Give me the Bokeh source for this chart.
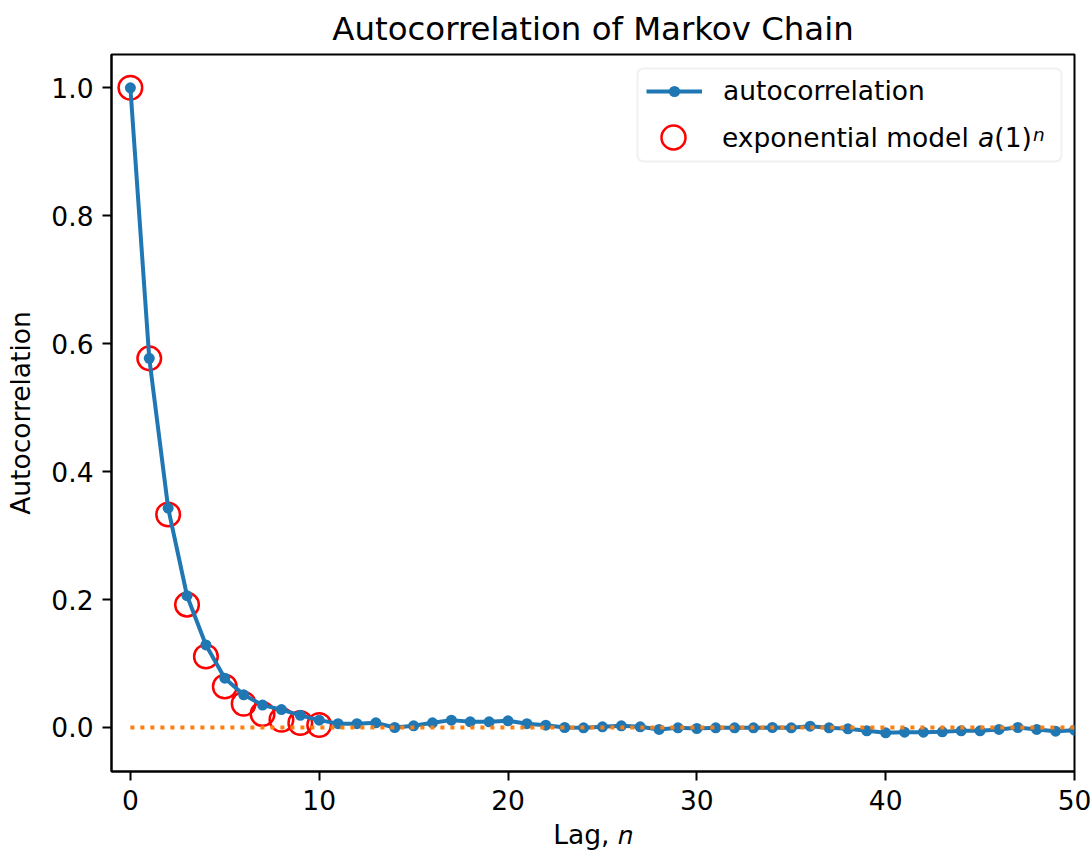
from bokeh.plotting import figure
from bokeh.models import (Range1d, Legend, LegendItem, FixedTicker,
                          NumeralTickFormatter, BoxAnnotation, Label, Title)
from bokeh.embed import file_html
from bokeh.resources import INLINE

# Sample autocorrelation of the chain for lags 0..50
lags = list(range(51))
acf = [1.0, 0.577, 0.343, 0.206, 0.129, 0.077, 0.051, 0.035, 0.028, 0.019,
       0.0115, 0.006, 0.006, 0.0073, 0.0, 0.0026, 0.0073, 0.0115, 0.0089, 0.0089,
       0.0104, 0.006, 0.0036, 0.0, -0.0005, 0.001, 0.0026, 0.001, -0.003, -0.0005,
       -0.0016, -0.0005, -0.0005, -0.0005, 0.0, -0.0005, 0.002, -0.0005, -0.002, -0.0052,
       -0.0083, -0.0073, -0.0073, -0.0068, -0.0052, -0.0052, -0.003, 0.0, -0.003, -0.0057,
       -0.0042]

# Exponential model a(1)^n for the first lags
model_lags = list(range(11))
model_vals = [1.0, 0.577, 0.333, 0.192, 0.111, 0.064, 0.037, 0.021, 0.012, 0.007, 0.004]

# Reference zero line
zero_x = [0, 50]
zero_y = [0, 0]

x_ticks = [0, 10, 20, 30, 40, 50]
y_ticks = [0.0, 0.2, 0.4, 0.6, 0.8, 1.0]

FONT = "DejaVu Sans"
BLUE = "#1f77b4"
ORANGE = "#ff7f0e"
TICK_PX = "26.5px"

p = figure(width=1092, height=856, output_backend="svg", toolbar_location=None,
           x_range=Range1d(-1, 50), y_range=Range1d(-0.0688, 1.052),
           min_border_left=111, min_border_right=18, min_border_top=54,
           min_border_bottom=85, title="Autocorrelation of Markov Chain")

p.title.text_font = FONT
p.title.text_font_size = "32.4px"
p.title.text_font_style = "normal"
p.title.text_color = "black"
p.title.align = "center"
p.title.standoff = 13

p.grid.visible = False
p.outline_line_color = "black"
p.outline_line_width = 2
p.background_fill_color = "white"
p.border_fill_color = "white"

for ax in (p.xaxis[0], p.yaxis[0]):
    ax.axis_line_width = 2
    ax.major_tick_line_width = 2
    ax.major_tick_out = 9
    ax.major_tick_in = 0
    ax.minor_tick_line_color = None
    ax.major_label_text_font = FONT
    ax.major_label_text_font_size = TICK_PX
    ax.major_label_text_color = "black"
    ax.axis_label_text_font = FONT
    ax.axis_label_text_font_size = TICK_PX
    ax.axis_label_text_font_style = "normal"
    ax.axis_label_text_color = "black"

p.xaxis.ticker = FixedTicker(ticks=x_ticks)
p.yaxis.ticker = FixedTicker(ticks=y_ticks)
p.yaxis.formatter = NumeralTickFormatter(format="0.0")
p.xaxis.major_label_standoff = 9
p.yaxis.major_label_standoff = 9
p.yaxis.axis_label = "Autocorrelation"
p.yaxis.axis_label_standoff = 12

# x-axis title as a panel under the tick labels
p.add_layout(Title(text="Lag, \U0001D45B", align="center", text_font=FONT,
                   text_font_size=TICK_PX, text_font_style="normal",
                   text_color="black", standoff=9, vertical_align="bottom"), "below")

# model circles sit beneath the data line
circ = p.scatter(model_lags, model_vals, marker="circle", size=23.6,
                 fill_color=None, line_color="red", line_width=2.5)
line = p.line(lags, acf, line_color=BLUE, line_width=4)
dots = p.scatter(lags, acf, marker="circle", size=11, fill_color=BLUE,
                 line_color=BLUE, line_width=0)
p.line(zero_x, zero_y, line_color=ORANGE, line_width=4, line_dash="4 6")

# legend frame (screen units measured from the plot frame's lower-left corner)
p.add_layout(BoxAnnotation(left=526, right=950, bottom=610, top=703,
                           left_units="screen", right_units="screen",
                           bottom_units="screen", top_units="screen",
                           fill_color="white", fill_alpha=0.8,
                           line_color="#cccccc", line_width=2,
                           border_radius=6))


def make_legend(item, loc, gw, gh, standoff):
    lg = Legend(items=[item], location=loc)
    lg.margin = 0
    lg.padding = 0
    lg.spacing = 0
    lg.glyph_width = gw
    lg.glyph_height = gh
    lg.label_height = gh
    lg.label_standoff = standoff
    lg.label_text_font = FONT
    lg.label_text_font_size = TICK_PX
    lg.label_text_color = "black"
    lg.border_line_color = None
    lg.background_fill_alpha = 0
    return lg


p.add_layout(make_legend(LegendItem(label="autocorrelation", renderers=[line, dots]),
                         (535, 665), 56, 28, 21))
p.add_layout(make_legend(LegendItem(label="exponential model ", renderers=[circ]),
                         (532, 604), 60, 60, 19))

# math part of the model label: italic a, upright (1), italic superscript n
for txt, xs, ys, size, style in [("a", 866.6, 634, TICK_PX, "italic"),
                                 ("(1)", 882.8, 634, TICK_PX, "normal"),
                                 ("n", 921.5, 637.5, "18.5px", "italic")]:
    p.add_layout(Label(text=txt, x=xs, y=ys, x_units="screen", y_units="screen",
                       text_font=FONT, text_font_size=size, text_font_style=style,
                       text_color="black", text_baseline="middle", text_align="left"))

open("out.html", "w").write(file_html(p, INLINE))
